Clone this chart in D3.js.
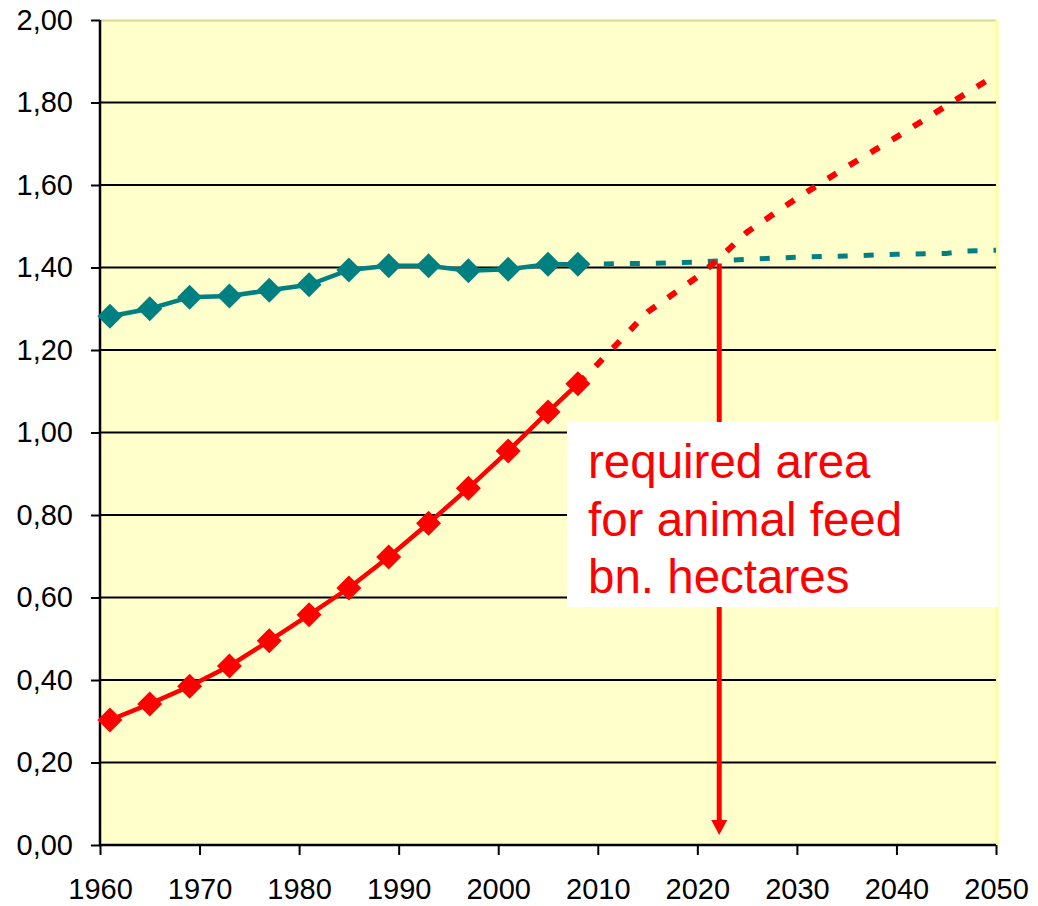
<!DOCTYPE html>
<html>
<head>
<meta charset="utf-8">
<script src="https://cdn.jsdelivr.net/npm/d3@7"></script>
<style>
  body { margin: 0; background: #fff; }
  svg { display: block; }
</style>
</head>
<body>
<div id="container"></div>
<script>
var WIDTH = 1038;
var HEIGHT = 906;
var MARGIN = { TOP: 20, BOTTOM: 61, LEFT: 100, RIGHT: 42 };

var width = WIDTH - MARGIN.LEFT - MARGIN.RIGHT;
var height = HEIGHT - MARGIN.TOP - MARGIN.BOTTOM;

// observed data (1961 - 2008)
const years = [1961, 1965, 1969, 1973, 1977, 1981, 1985, 1989, 1993, 1997, 2001, 2005, 2008];
const arableLand = [1.282, 1.300, 1.328, 1.331, 1.345, 1.358, 1.394, 1.404, 1.404, 1.392, 1.396, 1.408, 1.408];
const feedArea = [0.303, 0.342, 0.385, 0.434, 0.495, 0.558, 0.623, 0.698, 0.780, 0.865, 0.955, 1.050, 1.118];

// projections (2008 - 2050)
const projYearsLand = [2008, 2015, 2020, 2025, 2030, 2035, 2040, 2045, 2047, 2050];
const projLand = [1.408, 1.410, 1.413, 1.420, 1.425, 1.428, 1.432, 1.434, 1.440, 1.442];
const projYearsFeed = [2008, 2010, 2015, 2020, 2022, 2025, 2030, 2035, 2040, 2045, 2050];
const projFeed = [1.118, 1.166, 1.292, 1.377, 1.418, 1.486, 1.568, 1.644, 1.716, 1.792, 1.867];

// crossing marker
const crossYear = 2022.2;
const crossValue = 1.41;

const xTicks = [1960, 1970, 1980, 1990, 2000, 2010, 2020, 2030, 2040, 2050];
const yTicks = [0, 0.2, 0.4, 0.6, 0.8, 1.0, 1.2, 1.4, 1.6, 1.8, 2.0];
const labelLines = ['required area', 'for animal feed', 'bn. hectares'];

const TEAL = '#008080';
const RED = '#ff0000';
const FONT = '"Liberation Sans", Arial, sans-serif';

const svg = d3.select('#container')
  .append('svg')
    .attr('width', WIDTH)
    .attr('height', HEIGHT);

const container = svg.append('g')
    .attr('transform', `translate(${MARGIN.LEFT}, ${MARGIN.TOP})`);

const x = d3.scaleLinear().domain([1960, 2050]).range([0, width]);
const y = d3.scaleLinear().domain([0, 2]).range([height, 0]);

const locale = d3.formatLocale({ decimal: ',', thousands: '.', grouping: [3], currency: ['', ''] });
const yFmt = locale.format('.2f');

// plot background
container.append('rect')
    .attr('x', 0).attr('y', 0)
    .attr('width', width).attr('height', height)
    .attr('fill', '#ffffcc');

container.append('line')
    .attr('x1', 0).attr('x2', width)
    .attr('y1', 0.5).attr('y2', 0.5)
    .attr('stroke', '#d8d890').attr('stroke-width', 2);

container.append('line')
    .attr('x1', width + 1).attr('x2', width + 1)
    .attr('y1', 0).attr('y2', height)
    .attr('stroke', '#ffff99').attr('stroke-width', 3);

// gridlines
container.selectAll('.grid')
    .data(yTicks.filter(d => d > 0 && d < 2))
    .enter()
    .append('line')
    .attr('class', 'grid')
    .attr('x1', 0).attr('x2', width)
    .attr('y1', d => y(d)).attr('y2', d => y(d))
    .attr('stroke', '#000').attr('stroke-width', 2);

// axes
const yAxis = container.append('g')
    .call(d3.axisLeft(y).tickValues(yTicks).tickFormat(yFmt).tickSize(9).tickPadding(18));

const xAxis = container.append('g')
    .attr('transform', `translate(0, ${height})`)
    .call(d3.axisBottom(x).tickValues(xTicks).tickFormat(d3.format('d')).tickSize(10).tickPadding(23));

[yAxis, xAxis].forEach(ax => {
  ax.select('.domain').remove();
  ax.selectAll('.tick line').attr('stroke', '#000').attr('stroke-width', 2);
  ax.selectAll('.tick text')
    .attr('fill', '#000')
    .style('font-size', '29px')
    .style('font-family', FONT);
});

container.append('line')
    .attr('x1', 0).attr('x2', 0)
    .attr('y1', 0).attr('y2', height + 1)
    .attr('stroke', '#000').attr('stroke-width', 2.5);
container.append('line')
    .attr('x1', -1).attr('x2', width)
    .attr('y1', height).attr('y2', height)
    .attr('stroke', '#000').attr('stroke-width', 2.5);

const line = d3.line().x(d => x(d[0])).y(d => y(d[1]));

// projections (dashed)
container.append('path')
    .datum(d3.zip(projYearsLand, projLand))
    .attr('d', line)
    .attr('fill', 'none')
    .attr('stroke', TEAL)
    .attr('stroke-width', 5)
    .attr('stroke-dasharray', '10,16');

container.append('path')
    .datum(d3.zip(projYearsFeed, projFeed))
    .attr('d', line)
    .attr('fill', 'none')
    .attr('stroke', RED)
    .attr('stroke-width', 6)
    .attr('stroke-dasharray', '10,15');

// observed lines
const diamond = 'M0,-12.5L12.5,0L0,12.5L-12.5,0Z';

function draw_series(values, color) {
  const pts = d3.zip(years, values);
  container.append('path')
      .datum(pts)
      .attr('d', line)
      .attr('fill', 'none')
      .attr('stroke', color)
      .attr('stroke-width', 4.5);

  container.selectAll(null)
      .data(pts)
      .enter()
      .append('path')
      .attr('d', diamond)
      .attr('transform', d => `translate(${x(d[0])}, ${y(d[1])})`)
      .attr('fill', color);
}

draw_series(arableLand, TEAL);
draw_series(feedArea, RED);

// arrow from crossing down to the x axis
const ax0 = x(crossYear);
container.append('line')
    .attr('x1', ax0).attr('x2', ax0)
    .attr('y1', y(crossValue)).attr('y2', height - 20)
    .attr('stroke', RED).attr('stroke-width', 5);
container.append('path')
    .attr('d', `M${ax0 - 8},${height - 25}L${ax0 + 8},${height - 25}L${ax0},${height - 10}Z`)
    .attr('fill', RED);

// label box
const box = container.append('g')
    .attr('transform', `translate(${567 - MARGIN.LEFT}, ${422 - MARGIN.TOP})`);

box.append('rect')
    .attr('width', 431)
    .attr('height', 185)
    .attr('fill', '#fff');

box.selectAll('text')
    .data(labelLines)
    .enter()
    .append('text')
    .attr('x', 21)
    .attr('y', (d, i) => 56 + i * 57.5)
    .attr('fill', RED)
    .style('font-size', '47.5px')
    .style('font-family', FONT)
    .text(d => d);
</script>
</body>
</html>
